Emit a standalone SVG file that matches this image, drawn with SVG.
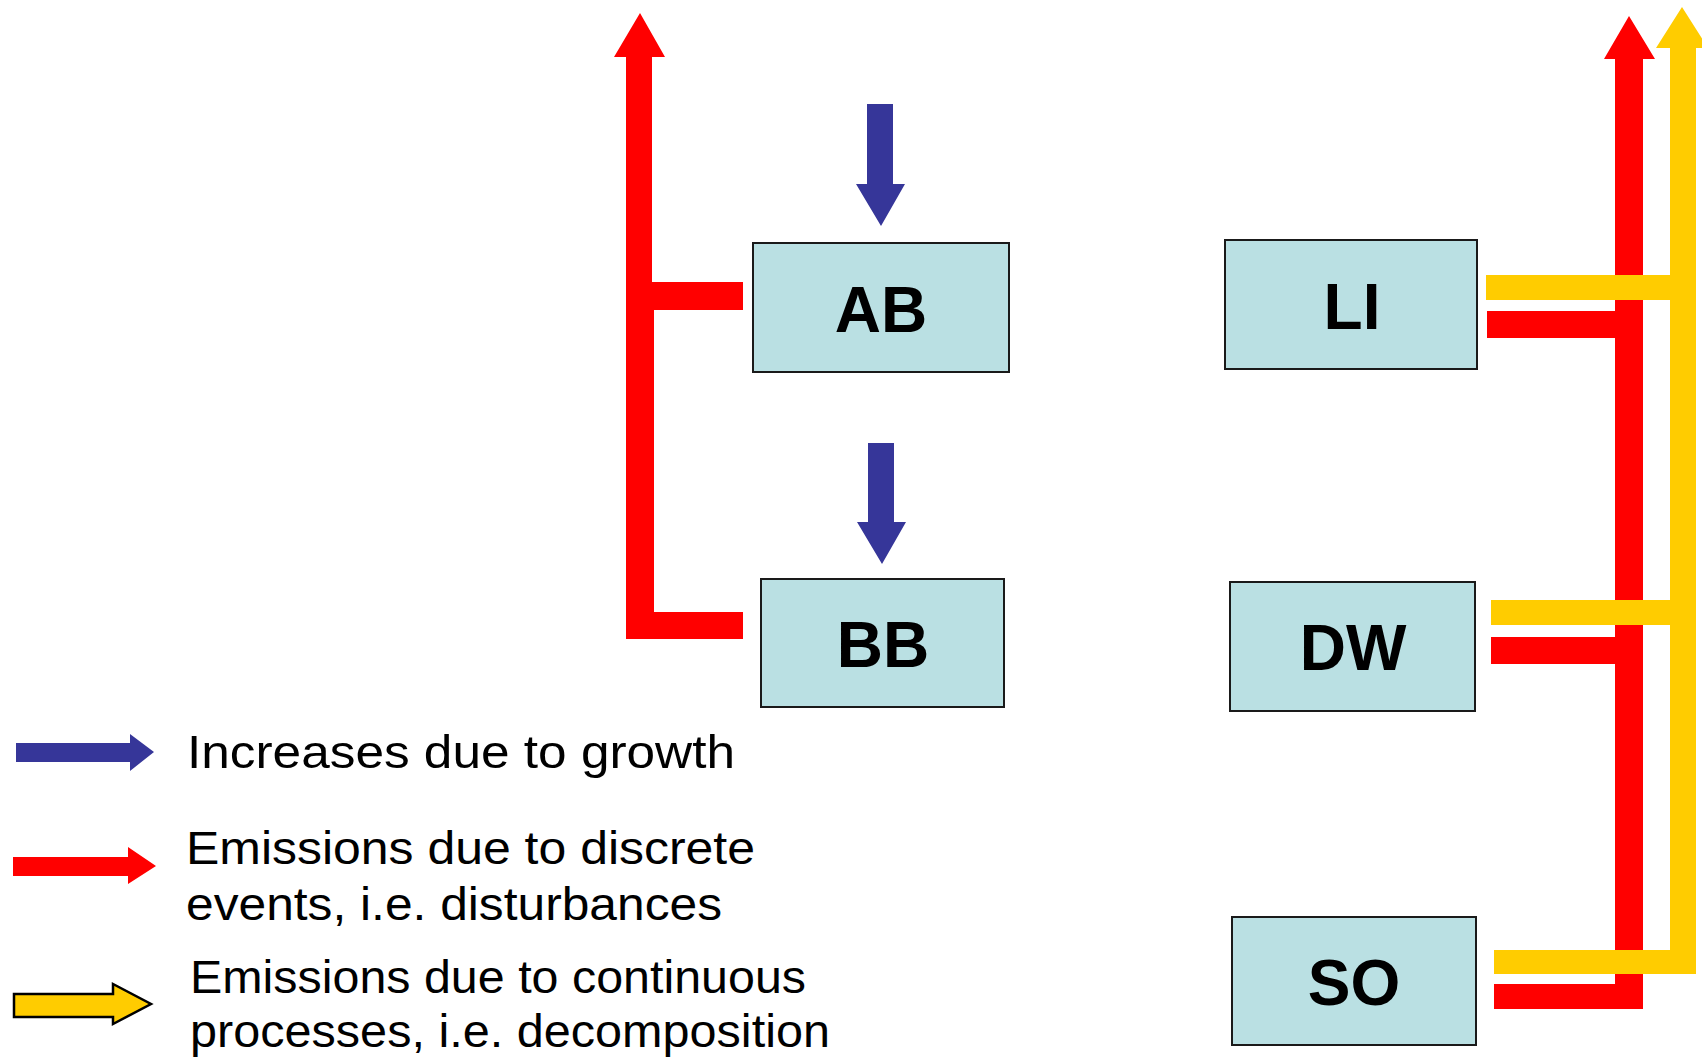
<svg xmlns="http://www.w3.org/2000/svg" width="1702" height="1062" viewBox="0 0 1702 1062">
  <style>
    .box { fill: #BAE0E3; stroke: #1a1a1a; stroke-width: 2; }
    .lbl { font-family: "Liberation Sans", Arial, sans-serif; font-weight: bold; font-size: 64px; fill: #000; text-anchor: middle; }
    .red { fill: #FF0000; }
    .yel { fill: #FFCC00; }
    .blue { fill: #363699; }
    .legend { font-family: "Liberation Sans", Arial, sans-serif; font-size: 46px; fill: #000; }
  </style>
  <rect width="1702" height="1062" fill="#ffffff"/>

  <g id="connectors">
    <!-- growth inputs -->
    <polygon class="blue" points="867,104 893,104 893,184 905,184 881,226 856,184 867,184"/>
    <polygon class="blue" points="868,443 894,443 894,522 906,522 882,564 857,522 868,522"/>

    <!-- disturbance emissions from AB / BB -->
    <polygon class="red" points="626,310 626,57 614,57 640,13 665,57 652,57 652,310"/>
    <rect class="red" x="626" y="282" width="117" height="28"/>
    <polygon class="red" points="626,300 654,300 654,612 743,612 743,639 626,639"/>

    <!-- disturbance emissions from LI / DW / SO -->
    <polygon class="red" points="1615,1009 1615,59 1604,59 1629,16 1655,59 1643,59 1643,1009"/>
    <rect class="red" x="1487" y="311" width="156" height="27"/>
    <rect class="red" x="1491" y="637" width="152" height="27"/>
    <rect class="red" x="1494" y="984" width="149" height="25"/>

    <!-- decomposition emissions from LI / DW / SO -->
    <polygon class="yel" points="1670,974 1670,48 1656,48 1682,7 1708,48 1696,48 1696,974"/>
    <rect class="yel" x="1486" y="275" width="210" height="25"/>
    <rect class="yel" x="1491" y="600" width="205" height="25"/>
    <rect class="yel" x="1494" y="950" width="202" height="24"/>
  </g>

  <g id="node-AB">
    <rect class="box" x="753" y="243" width="256" height="129"/>
    <text class="lbl" x="881" y="332">AB</text>
  </g>
  <g id="node-BB">
    <rect class="box" x="761" y="579" width="243" height="128"/>
    <text class="lbl" x="883" y="667">BB</text>
  </g>
  <g id="node-LI">
    <rect class="box" x="1225" y="240" width="252" height="129"/>
    <text class="lbl" x="1352" y="329">LI</text>
  </g>
  <g id="node-DW">
    <rect class="box" x="1230" y="582" width="245" height="129"/>
    <text class="lbl" x="1353" y="670">DW</text>
  </g>
  <g id="node-SO">
    <rect class="box" x="1232" y="917" width="244" height="128"/>
    <text class="lbl" x="1354" y="1005">SO</text>
  </g>

  <g id="legend">
    <polygon class="blue" points="16,743 130,743 130,734 154,752 130,771 130,762 16,762"/>
    <text class="legend" x="187" y="768" textLength="548" lengthAdjust="spacingAndGlyphs">Increases due to growth</text>

    <polygon class="red" points="13,857 128,857 128,847 156,866 128,884 128,876 13,876"/>
    <text class="legend" x="186" y="864" textLength="569" lengthAdjust="spacingAndGlyphs">Emissions due to discrete</text>
    <text class="legend" x="186" y="920" textLength="536" lengthAdjust="spacingAndGlyphs">events, i.e. disturbances</text>

    <polygon class="yel" points="14,994 113,994 113,984 151,1004 113,1024 113,1017 14,1017" stroke="#000" stroke-width="2.5"/>
    <text class="legend" x="190" y="993" textLength="616" lengthAdjust="spacingAndGlyphs">Emissions due to continuous</text>
    <text class="legend" x="190" y="1047" textLength="640" lengthAdjust="spacingAndGlyphs">processes, i.e. decomposition</text>
  </g>
</svg>
